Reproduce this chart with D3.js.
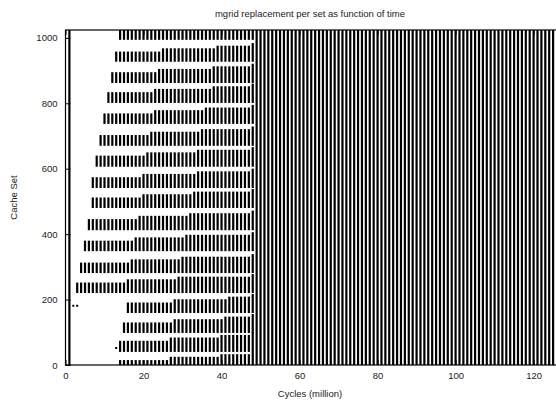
<!DOCTYPE html>
<html>
<head>
<meta charset="utf-8">
<script src="https://cdn.jsdelivr.net/npm/d3@7"></script>
<style>
  body { margin: 0; background: #fff; }
  text { font-family: "Liberation Sans", Arial, sans-serif; fill: #222; }
</style>
</head>
<body>
<svg id="chart"></svg>
<script>
// ticks
const xTicks = [0, 20, 40, 60, 80, 100, 120];
const yTicks = [0, 200, 400, 600, 800, 1000];

// bands of replaced sets in the first phase (top to bottom)
const bandLo    = [994, 927, 862, 801, 737, 670, 606, 541, 480, 412, 348, 281, 220, 159, 98, 40, -24];
const bandHi    = [1024, 958, 895, 834, 769, 703, 640, 574, 512, 446, 380, 313, 252, 191, 130, 74, 15];
const bandStart = [14, 13, 12, 11, 10, 9, 8, 7, 7, 6, 5, 4, 3, 16, 15, 14, 14];
const bandStep1 = [26, 25, 24, 23, 23, 22, 21, 20, 20, 19, 18, 17, 16, 28, 28, 27, 27];
const bandStep2 = [40, 39, 38, 38, 36, 35, 34, 34, 33, 32, 31, 30, 29, 42, 41, 40, 40];
const stepGrow  = [10, 8, 8];   // sets added at step1, step2 and on the last column
const bandEnd   = 48;

// columns where every set is replaced
const fullStart = 49, fullEnd = 125;
const fullExtra = [1];

// isolated single replacements [cycles, set]
const dots = [[2, 181], [3, 181], [13, 52]];

const W = 556, H = 402;
const svg = d3.select('#chart').attr('width', W).attr('height', H);

const x = d3.scaleLinear().domain([0, 126]).range([65.5, 557]);
const y = d3.scaleLinear().domain([0, 1024]).range([365, 30]);

svg.append('clipPath').attr('id', 'plot')
  .append('rect')
  .attr('x', x(0)).attr('y', y(1024))
  .attr('width', x(126) - x(0)).attr('height', y(0) - y(1024));

// build the columns
const cols = [];
bandLo.forEach((lo, i) => {
  for (let t = bandStart[i]; t <= bandEnd; t++) {
    let hi = bandHi[i];
    if (t >= bandStep1[i]) hi += stepGrow[0];
    if (t >= bandStep2[i]) hi += stepGrow[1];
    if (t === bandEnd) hi += stepGrow[2];
    cols.push({ t, lo, hi });
  }
});
fullExtra.forEach(t => cols.push({ t, lo: 0, hi: 1024 }));
for (let t = fullStart; t <= fullEnd; t++) cols.push({ t, lo: 0, hi: 1024 });

const g = svg.append('g').attr('clip-path', 'url(#plot)');

g.selectAll('rect.col').data(cols).enter().append('rect')
  .attr('class', 'col')
  .attr('x', d => x(d.t) - 1.1)
  .attr('width', 2.2)
  .attr('y', d => y(d.hi))
  .attr('height', d => y(d.lo) - y(d.hi))
  .attr('fill', '#000');

g.selectAll('rect.dot').data(dots).enter().append('rect')
  .attr('class', 'dot')
  .attr('x', d => x(d[0]) - 1)
  .attr('y', d => y(d[1]) - 1)
  .attr('width', 2)
  .attr('height', 2)
  .attr('fill', '#000');

// axes with inward ticks
const xAxis = svg.append('g')
  .attr('transform', `translate(0,${y(0)})`)
  .call(d3.axisBottom(x).tickValues(xTicks).tickSize(-5).tickPadding(7).tickFormat(d3.format('d')));
const xTop = svg.append('g')
  .attr('transform', `translate(0,${y(1024)})`)
  .call(d3.axisTop(x).tickValues(xTicks).tickSize(-5).tickFormat(''));
const yAxis = svg.append('g')
  .attr('transform', `translate(${x(0)},0)`)
  .call(d3.axisLeft(y).tickValues(yTicks).tickSize(-5).tickPadding(8).tickFormat(d3.format('d')));

[xAxis, xTop, yAxis].forEach(a => {
  a.select('.domain').remove();
  a.selectAll('line').attr('stroke', '#000');
  a.selectAll('text').style('font-size', '9.5px').attr('fill', '#222')
    .style('font-family', '"Liberation Sans", Arial, sans-serif');
});

// frame
svg.append('rect')
  .attr('x', x(0)).attr('y', y(1024))
  .attr('width', x(126) - x(0)).attr('height', y(0) - y(1024))
  .attr('fill', 'none').attr('stroke', '#000').attr('stroke-width', 1.2);

// labels
svg.append('text')
  .attr('x', 310).attr('y', 17)
  .attr('text-anchor', 'middle')
  .style('font-size', '9.5px')
  .text('mgrid replacement per set as function of time');

svg.append('text')
  .attr('x', 310).attr('y', 397)
  .attr('text-anchor', 'middle')
  .style('font-size', '9.5px')
  .text('Cycles (million)');

svg.append('text')
  .attr('transform', `translate(17,${(y(0) + y(1024)) / 2}) rotate(-90)`)
  .attr('text-anchor', 'middle')
  .style('font-size', '9.5px')
  .text('Cache Set');
</script>
</body>
</html>
